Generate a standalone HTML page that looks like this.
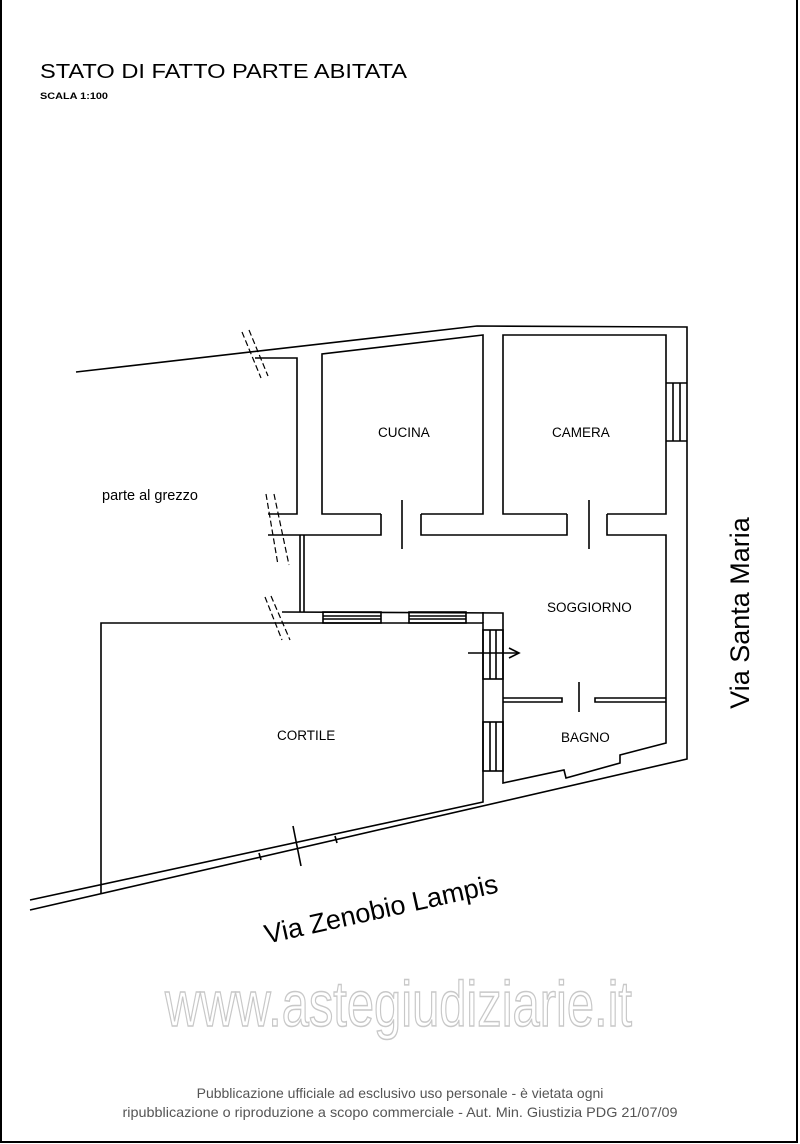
<!DOCTYPE html>
<html><head><meta charset="utf-8"><style>
html,body{margin:0;padding:0;background:#fff}
svg{display:block}
text{font-family:"Liberation Sans",Arial,sans-serif}
</style></head><body>
<svg width="800" height="1144" viewBox="0 0 800 1144" xmlns="http://www.w3.org/2000/svg">
<rect x="1" y="-2" width="796" height="1144" fill="none" stroke="#000" stroke-width="2"/>
<text x="40" y="78" font-size="20" textLength="367" lengthAdjust="spacingAndGlyphs">STATO DI FATTO PARTE ABITATA</text>
<text x="40" y="99" font-size="9.5" font-weight="bold" textLength="68" lengthAdjust="spacingAndGlyphs">SCALA 1:100</text>
<g fill="none" stroke="#000" stroke-width="1.6">
<polyline points="76,372 477,326 687,327 687,759 30,910"/>
<polyline points="255,358 297,358 297,514 268,514"/>
<polyline points="381,514 322,514 322,354 483,335 483,514 421,514"/>
<polyline points="567,514 503,514 503,335 666,335 666,514 607,514"/>
<polyline points="381,514 381,535 268,535"/>
<polyline points="421,514 421,535 567,535 567,514"/>
<polyline points="607,514 607,535 666,535 666,743 620,755 620,763 566,778 564,770 503,783 503,613 282,612"/>
<line x1="300" y1="535" x2="300" y2="612"/><line x1="304" y1="535" x2="304" y2="612"/>
<line x1="666" y1="383" x2="687" y2="383"/><line x1="666" y1="441" x2="687" y2="441"/>
<line x1="673" y1="383" x2="673" y2="441"/><line x1="680" y1="383" x2="680" y2="441"/>
<line x1="402" y1="500" x2="402" y2="549"/>
<line x1="589" y1="500" x2="589" y2="549"/>
<line x1="579" y1="682" x2="579" y2="712"/>
<polyline points="503,698 562,698 562,702 503,702"/>
<polyline points="666,698 595,698 595,702 666,702"/>
<polyline points="101,894 101,623 483,623 483,802 30,900"/>
<line x1="483" y1="623" x2="483" y2="612"/>
<rect x="323" y="612" width="58" height="11"/><line x1="323" y1="616" x2="381" y2="616"/><line x1="323" y1="619" x2="381" y2="619"/>
<rect x="409" y="612" width="57" height="11"/><line x1="409" y1="616" x2="466" y2="616"/><line x1="409" y1="619" x2="466" y2="619"/>
<rect x="483" y="630" width="20" height="49"/><line x1="490" y1="630" x2="490" y2="679"/><line x1="496" y1="630" x2="496" y2="679"/>
<rect x="483" y="722" width="20" height="49"/><line x1="490" y1="722" x2="490" y2="771"/><line x1="496" y1="722" x2="496" y2="771"/>
<line x1="468" y1="653" x2="519" y2="653"/><polyline points="509,648 519,653 509,658"/>
<line x1="259" y1="853" x2="261" y2="860"/><line x1="335" y1="836" x2="337" y2="843"/>
<line x1="293" y1="826" x2="301" y2="866"/>
</g>
<g fill="none" stroke="#000" stroke-width="1.2" stroke-dasharray="6,3">
<line x1="242" y1="332" x2="261" y2="378"/><line x1="249" y1="330" x2="268" y2="376"/>
<line x1="266" y1="494" x2="278" y2="565"/><line x1="274" y1="494" x2="289" y2="565"/>
<line x1="265" y1="597" x2="282" y2="640"/><line x1="271" y1="596" x2="290" y2="640"/>
</g>
<g font-size="13.5">
<text x="378" y="437">CUCINA</text>
<text x="552" y="437">CAMERA</text>
<text x="547" y="612">SOGGIORNO</text>
<text x="561" y="742">BAGNO</text>
<text x="277" y="740">CORTILE</text>
</g>
<text x="102" y="500" font-size="14.5">parte al grezzo</text>
<text transform="translate(749,613) rotate(-90)" text-anchor="middle" font-size="27">Via Santa Maria</text>
<text transform="translate(383,918) rotate(-12.5)" text-anchor="middle" font-size="27">Via Zenobio Lampis</text>
<text x="165" y="1026" font-size="64" fill="#fff" stroke="#c8c8c8" stroke-width="1.5" textLength="467" lengthAdjust="spacingAndGlyphs">www.astegiudiziarie.it</text>
<text x="400" y="1098" font-size="14" fill="#555" text-anchor="middle">Pubblicazione ufficiale ad esclusivo uso personale - è vietata ogni</text>
<text x="400" y="1117" font-size="14" fill="#555" text-anchor="middle" textLength="555" lengthAdjust="spacingAndGlyphs">ripubblicazione o riproduzione a scopo commerciale - Aut. Min. Giustizia PDG 21/07/09</text>
</svg>
</body></html>
